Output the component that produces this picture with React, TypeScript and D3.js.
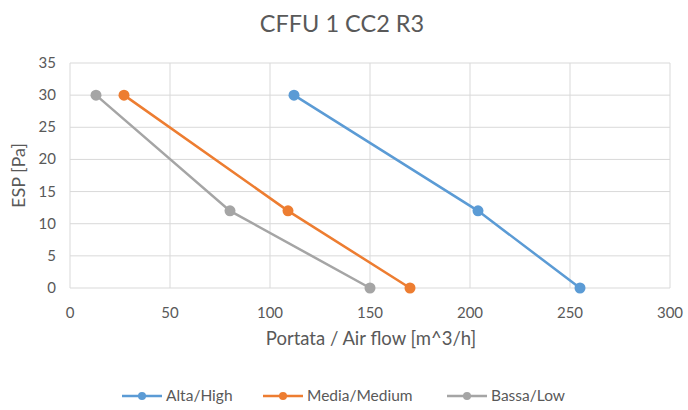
import React from "react";
import * as d3 from "d3";

const title = "CFFU 1 CC2 R3";
const xTicks = [0, 50, 100, 150, 200, 250, 300];
const yTicks = [0, 5, 10, 15, 20, 25, 30, 35];
const seriesNames = ["Alta/High", "Media/Medium", "Bassa/Low"];
const seriesColors = ["#5b9bd5", "#ed7d31", "#a5a5a5"];
const altaFlow = [112, 204, 255];
const altaEsp = [30, 12, 0];
const mediaFlow = [27, 109, 170];
const mediaEsp = [30, 12, 0];
const bassaFlow = [13, 80, 150];
const bassaEsp = [30, 12, 0];

const series = [
  { name: seriesNames[0], color: seriesColors[0], xs: altaFlow, ys: altaEsp },
  { name: seriesNames[1], color: seriesColors[1], xs: mediaFlow, ys: mediaEsp },
  { name: seriesNames[2], color: seriesColors[2], xs: bassaFlow, ys: bassaEsp },
];

export default function App() {
  const W = 688, H = 410;
  const x = d3.scaleLinear().domain([0, 300]).range([70, 670]);
  const y = d3.scaleLinear().domain([0, 35]).range([288, 63]);
  const line = d3.line<[number, number]>().x(d => x(d[0])).y(d => y(d[1]));
  const font = "Lato, 'Open Sans', sans-serif";
  const textColor = "#595959";
  const legendX = [122, 263, 447];
  return (
    <svg width={W} height={H} style={{ position: "absolute", left: 0, top: 0, background: "#fff" }} fontFamily={font}>
      <rect x={0} y={0} width={W} height={H} fill="#fff" />
      <text x={342} y={32} textAnchor="middle" fontSize={23.5} fill={textColor}>{title}</text>
      {yTicks.map(t => (
        <line key={"gy" + t} x1={x(0)} x2={x(300)} y1={y(t)} y2={y(t)} stroke="#d9d9d9" strokeWidth={1} />
      ))}
      {xTicks.map(t => (
        <line key={"gx" + t} x1={x(t)} x2={x(t)} y1={y(0)} y2={y(35)} stroke="#d9d9d9" strokeWidth={1} />
      ))}
      {yTicks.map(t => (
        <text key={"ty" + t} x={56} y={y(t) + 5} textAnchor="end" fontSize={15} fill={textColor}>{t}</text>
      ))}
      {xTicks.map(t => (
        <text key={"tx" + t} x={x(t)} y={318} textAnchor="middle" fontSize={15} fill={textColor}>{t}</text>
      ))}
      <text x={371} y={345} textAnchor="middle" fontSize={18.5} fill={textColor}>Portata / Air flow [m^3/h]</text>
      <text transform={`translate(25,${y(17.5)}) rotate(-90)`} textAnchor="middle" fontSize={18} fill={textColor}>ESP [Pa]</text>
      {series.map(s => {
        const pts = s.xs.map((v, i) => [v, s.ys[i]] as [number, number]);
        return (
          <g key={s.name}>
            <path d={line(pts) || ""} fill="none" stroke={s.color} strokeWidth={2.5} />
            {pts.map((p, i) => (
              <circle key={i} cx={x(p[0])} cy={y(p[1])} r={5.5} fill={s.color} />
            ))}
          </g>
        );
      })}
      {series.map((s, i) => (
        <g key={"lg" + s.name}>
          <line x1={legendX[i]} x2={legendX[i] + 40} y1={396} y2={396} stroke={s.color} strokeWidth={2.5} />
          <circle cx={legendX[i] + 20} cy={396} r={4} fill={s.color} />
          <text x={legendX[i] + 44} y={401} fontSize={15.5} fill={textColor}>{s.name}</text>
        </g>
      ))}
    </svg>
  );
}
